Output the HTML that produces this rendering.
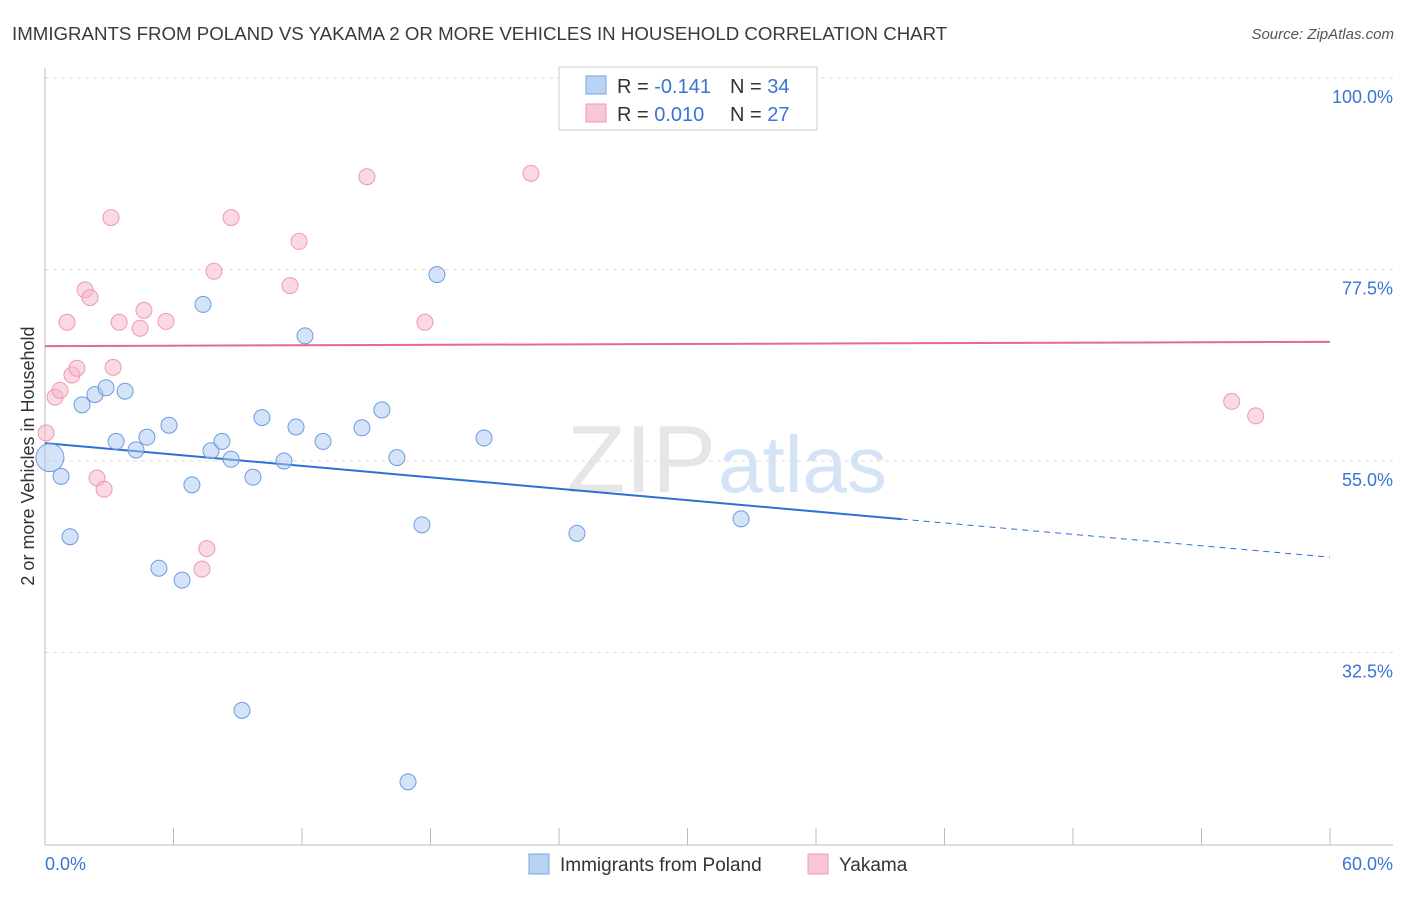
<!DOCTYPE html>
<html><head><meta charset="utf-8"><style>
body{margin:0;background:#fff;font-family:"Liberation Sans",sans-serif;}
svg text{font-family:"Liberation Sans",sans-serif;}
</style></head><body>
<svg id="chart" width="1406" height="892" viewBox="0 0 1406 892" xmlns="http://www.w3.org/2000/svg">
<text x="12" y="40" font-size="18.7" fill="#3a3a3a">IMMIGRANTS FROM POLAND VS YAKAMA 2 OR MORE VEHICLES IN HOUSEHOLD CORRELATION CHART</text>
<text x="1394" y="39" font-size="15" fill="#555" text-anchor="end" font-style="italic">Source: ZipAtlas.com</text>
<text x="716" y="492" font-size="96" fill="#e6e6e6" text-anchor="end" font-family="Liberation Serif">ZIP</text>
<text x="718" y="492" font-size="80" fill="#d4e3f5">atlas</text>
<g id="grid"></g>
<g id="axes"></g>
<g id="lines"></g>
<g id="points"></g>
<text transform="translate(34,456) rotate(-90)" font-size="18" fill="#333" text-anchor="middle">2 or more Vehicles in Household</text>
<g>
<rect x="559" y="67" width="258" height="63" fill="#fff" stroke="#ccc"/>
<rect x="586" y="76" width="20" height="18" fill="#b9d3f5" stroke="#7aa6e0"/>
<rect x="586" y="104" width="20" height="18" fill="#f9c6d5" stroke="#eb9ab3"/>
<text x="617" y="93" font-size="20" fill="#333">R = <tspan fill="#3a74d4">-0.141</tspan></text>
<text x="730" y="93" font-size="20" fill="#333">N = <tspan fill="#3a74d4">34</tspan></text>
<text x="617" y="121" font-size="20" fill="#333">R = <tspan fill="#3a74d4"> 0.010</tspan></text>
<text x="730" y="121" font-size="20" fill="#333">N = <tspan fill="#3a74d4">27</tspan></text>
</g>
<g>
<rect x="529" y="854" width="20" height="20" fill="#b9d3f5" stroke="#7aa6e0"/>
<text x="560" y="871" font-size="19" fill="#333">Immigrants from Poland</text>
<rect x="808" y="854" width="20" height="20" fill="#f9c6d5" stroke="#eb9ab3"/>
<text x="839" y="871" font-size="19" fill="#333">Yakama</text>
</g>
</svg>
<script>
const polandX=[0.23,0.75,1.17,1.73,2.33,2.85,3.74,3.32,4.25,4.76,5.32,5.79,6.40,6.86,7.38,7.75,8.26,8.69,9.20,9.71,10.13,11.16,11.72,12.14,12.98,14.80,15.73,16.43,16.95,17.60,18.30,20.50,24.84,32.50];
const polandY=[55.4,53.2,46.1,61.6,62.8,63.6,63.2,57.3,56.3,57.8,42.4,59.2,41.0,52.2,73.4,56.2,57.3,55.2,25.7,53.1,60.1,55.0,59.0,69.7,57.3,58.9,61.0,55.4,17.3,47.5,76.9,57.7,46.5,48.2];
const yakamaX=[0.05,0.47,0.70,1.03,1.26,1.49,1.87,2.10,2.43,2.76,3.08,3.18,3.46,4.44,4.62,5.65,7.33,7.56,7.89,8.69,11.44,11.86,15.03,17.74,22.69,55.41,56.53];
const yakamaY=[58.3,62.5,63.3,71.3,65.1,65.9,75.1,74.2,53.0,51.7,83.6,66.0,71.3,70.6,72.7,71.4,42.3,44.7,77.3,83.6,75.6,80.8,88.4,71.3,88.8,62.0,60.3];
const yTicks=[100,77.5,55,32.5];
const yTickLabels=["100.0%","77.5%","55.0%","32.5%"];
const xTicks=[0,6,12,18,24,30,36,42,48,54,60];
const polandTrend=[57.1,43.7];
const yakamaTrend=[68.5,69.0];
const polandSolidEnd=40;

const NS="http://www.w3.org/2000/svg";
const X=v=>45+v/60*1285;
const Y=v=>78+(100-v)*8.511;
function mk(tag,attrs,parent){const e=document.createElementNS(NS,tag);for(const k in attrs)e.setAttribute(k,attrs[k]);document.getElementById(parent).appendChild(e);return e;}
yTicks.forEach((t,i)=>{
  const g=mk('line',{x1:45,x2:1393,y1:Y(t),y2:Y(t),stroke:'#ddd','stroke-dasharray':'4,4'},'grid');
  
  
  const l=mk('text',{x:1393,y:Y(t)+25,'font-size':18,fill:'#3a74d4','text-anchor':'end'},'axes');
  l.textContent=yTickLabels[i];
  
  
});
const ax=mk('line',{x1:45,x2:1393,y1:845,y2:845,stroke:'#bbb'},'axes');


const ay=mk('line',{x1:45,x2:45,y1:68,y2:845,stroke:'#bbb'},'axes');


xTicks.forEach(t=>{
  const k=mk('line',{x1:X(t),x2:X(t),y1:828,y2:845,stroke:'#bbb'},'axes');
  
  
});
const x0=mk('text',{x:45,y:870,'font-size':18,fill:'#3a74d4'},'axes');x0.textContent='0.0%';


const x1=mk('text',{x:1393,y:870,'font-size':18,fill:'#3a74d4','text-anchor':'end'},'axes');x1.textContent='60.0%';


const tr=x=>polandTrend[0]+(polandTrend[1]-polandTrend[0])*x/60;
let l1=mk('line',{x1:X(0),y1:Y(tr(0)),x2:X(polandSolidEnd),y2:Y(tr(polandSolidEnd)),stroke:'#2e6fd6','stroke-width':2},'lines');


let l2=mk('line',{x1:X(polandSolidEnd),y1:Y(tr(polandSolidEnd)),x2:X(60),y2:Y(tr(60)),stroke:'#2e6fd6','stroke-width':1,'stroke-dasharray':'6,5'},'lines');


let l3=mk('line',{x1:X(0),y1:Y(yakamaTrend[0]),x2:X(60),y2:Y(yakamaTrend[1]),stroke:'#e26b90','stroke-width':2},'lines');


yakamaX.forEach((x,i)=>{
  const c=mk('circle',{cx:X(x),cy:Y(yakamaY[i]),r:8,fill:'rgba(246,180,200,0.5)',stroke:'#eb9ab3','stroke-width':1},'points');
  
  
});
polandX.forEach((x,i)=>{
  const c=mk('circle',{cx:X(x),cy:Y(polandY[i]),r:i===0?14:8,fill:'rgba(170,200,242,0.5)',stroke:'#6d9be0','stroke-width':1},'points');
  
  
});
</script>
</body></html>
